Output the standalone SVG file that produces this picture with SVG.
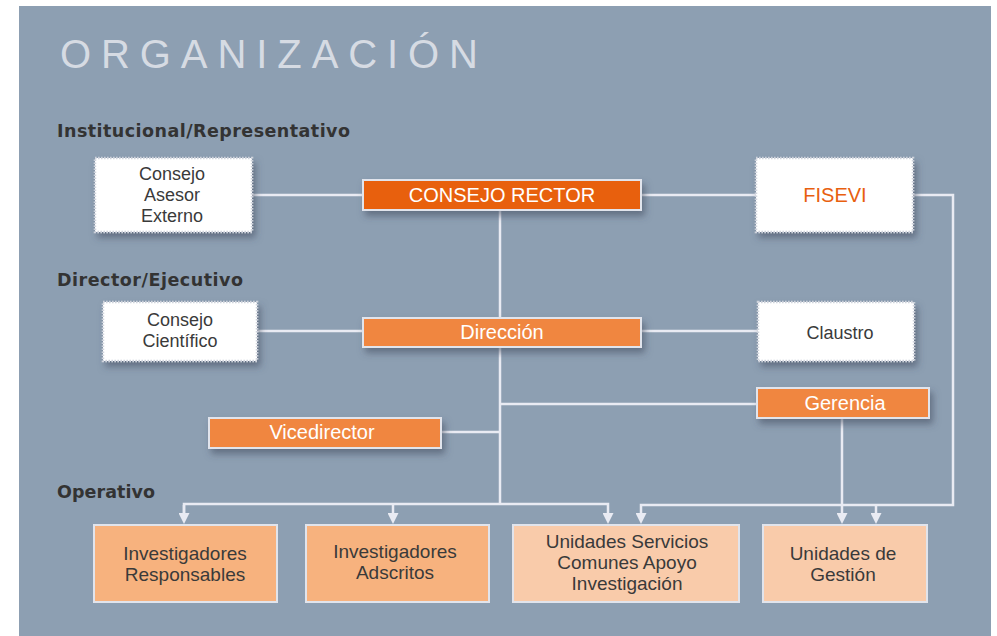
<svg xmlns="http://www.w3.org/2000/svg" width="997" height="636" viewBox="0 0 997 636">
<defs>
<filter id="sh" x="-20%" y="-30%" width="150%" height="180%">
<feDropShadow dx="3" dy="5" stdDeviation="3.5" flood-color="#3c4a5c" flood-opacity="0.55"/>
</filter>
<marker id="arr" markerUnits="userSpaceOnUse" markerWidth="11" markerHeight="11" refX="0" refY="5.5" orient="auto" viewBox="0 0 11 11">
<path d="M0,0 L11,5.5 L0,11 z" fill="#e9ebf3"/>
</marker>
<style>
.t{font-family:"Liberation Sans",Arial,sans-serif;}
.lbl{font-family:"DejaVu Sans","Liberation Sans",sans-serif;font-weight:bold;font-size:17.5px;fill:#333;}
.wbox{fill:#fff;stroke:#cfd3dc;stroke-width:2.5;stroke-dasharray:1.6 1.4;filter:url(#sh);}
.dk{fill:#e8600f;stroke:#e1e4ec;stroke-width:2;filter:url(#sh);}
.md{fill:#f08641;stroke:#e1e4ec;stroke-width:2;filter:url(#sh);}
.sa{fill:#f7b27e;stroke:#e1e4ec;stroke-width:2;}
.lt{fill:#f9cbaa;stroke:#e1e4ec;stroke-width:2;}
.tx{font-family:"Liberation Sans",Arial,sans-serif;font-size:18px;fill:#3a3a3a;text-anchor:middle;}
.tb{font-family:"Liberation Sans",Arial,sans-serif;font-size:19px;fill:#3a3a3a;text-anchor:middle;}
.tw{font-family:"Liberation Sans",Arial,sans-serif;font-size:20px;fill:#fff;text-anchor:middle;}
.c{fill:none;stroke:#e9ebf3;stroke-width:2.5;}
</style>
</defs>
<rect x="0" y="0" width="997" height="636" fill="#fff"/>
<rect x="19" y="6" width="972" height="630" fill="#8d9fb2"/>
<text x="60" y="68" class="t" font-size="40" fill="#d6dbe3" textLength="418" lengthAdjust="spacing">ORGANIZACIÓN</text>
<text x="57" y="137" class="lbl" textLength="293" lengthAdjust="spacing">Institucional/Representativo</text>
<text x="57" y="286" class="lbl" textLength="186" lengthAdjust="spacing">Director/Ejecutivo</text>
<text x="57" y="498" class="lbl" textLength="98" lengthAdjust="spacing">Operativo</text>

<g id="connectors">
<line class="c" x1="252" y1="195" x2="363" y2="195"/>
<line class="c" x1="641" y1="195" x2="756" y2="195"/>
<polyline class="c" points="913,195 953,195 953,505 641,505 641,513" marker-end="url(#arr)"/>
<line class="c" x1="876" y1="505" x2="876" y2="513" marker-end="url(#arr)"/>
<line class="c" x1="500" y1="210" x2="500" y2="318"/>
<line class="c" x1="257" y1="331" x2="363" y2="331"/>
<line class="c" x1="641" y1="331" x2="758" y2="331"/>
<line class="c" x1="500" y1="347" x2="500" y2="504"/>
<line class="c" x1="757" y1="404" x2="500" y2="404"/>
<line class="c" x1="441" y1="432" x2="500" y2="432"/>
<polyline class="c" points="184,513 184,504 608,504 608,513" marker-end="url(#arr)"/>
<line class="c" x1="184" y1="505" x2="184" y2="513" marker-end="url(#arr)"/>
<line class="c" x1="393" y1="504" x2="393" y2="513" marker-end="url(#arr)"/>
<line class="c" x1="842" y1="418" x2="842" y2="513" marker-end="url(#arr)"/>
</g>

<g id="consejo-asesor">
<rect class="wbox" x="95" y="158" width="157" height="74"/>
<text class="tx" x="172" y="180">Consejo</text>
<text class="tx" x="172" y="201">Asesor</text>
<text class="tx" x="172" y="222">Externo</text>
</g>
<g id="consejo-rector">
<rect class="dk" x="363" y="180" width="278" height="30"/>
<text class="tw" x="502" y="202" font-size="19">CONSEJO RECTOR</text>
</g>
<g id="fisevi">
<rect class="wbox" x="756" y="158" width="157" height="74"/>
<text class="t" x="835" y="202" font-size="20" fill="#e8600f" text-anchor="middle">FISEVI</text>
</g>
<g id="consejo-cientifico">
<rect class="wbox" x="103" y="302" width="154" height="59"/>
<text class="tx" x="180" y="326">Consejo</text>
<text class="tx" x="180" y="347">Científico</text>
</g>
<g id="direccion">
<rect class="md" x="363" y="318" width="278" height="29"/>
<text class="tw" x="502" y="339">Dirección</text>
</g>
<g id="claustro">
<rect class="wbox" x="758" y="302" width="156" height="59"/>
<text class="tx" x="840" y="339" font-size="19">Claustro</text>
</g>
<g id="gerencia">
<rect class="md" x="757" y="388" width="172" height="30"/>
<text class="tw" x="845" y="410">Gerencia</text>
</g>
<g id="vicedirector">
<rect class="md" x="209" y="418" width="232" height="30"/>
<text class="tw" x="322" y="439">Vicedirector</text>
</g>
<g id="investigadores-responsables">
<rect class="sa" x="94" y="525" width="183" height="77"/>
<text class="tb" x="185" y="560">Investigadores</text>
<text class="tb" x="185" y="581">Responsables</text>
</g>
<g id="investigadores-adscritos">
<rect class="sa" x="306" y="525" width="183" height="77"/>
<text class="tb" x="395" y="558">Investigadores</text>
<text class="tb" x="395" y="579">Adscritos</text>
</g>
<g id="unidades-servicios">
<rect class="lt" x="513" y="525" width="226" height="77"/>
<text class="tb" x="627" y="548">Unidades Servicios</text>
<text class="tb" x="627" y="569">Comunes Apoyo</text>
<text class="tb" x="627" y="590">Investigación</text>
</g>
<g id="unidades-gestion">
<rect class="lt" x="763" y="525" width="164" height="77"/>
<text class="tb" x="843" y="560">Unidades de</text>
<text class="tb" x="843" y="581">Gestión</text>
</g>
</svg>
